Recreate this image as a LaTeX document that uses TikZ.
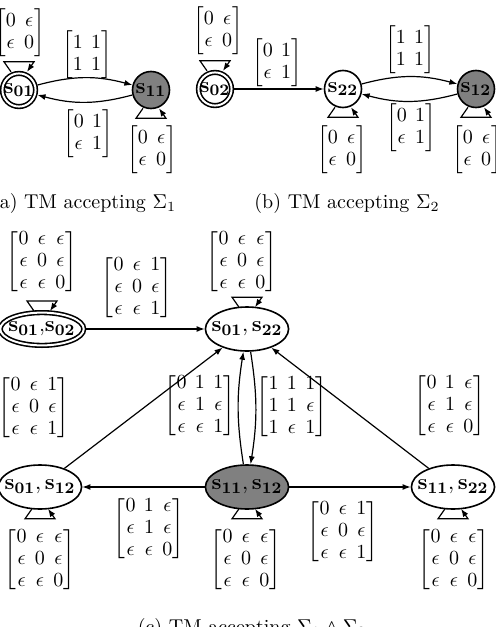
\documentclass[tikz,border=0pt]{standalone}
\usepackage{amsmath,amssymb}
\usepackage{tikz}
\usetikzlibrary{arrows.meta,shapes.geometric}
\newcommand{\sv}[1]{\mathbf{s_{#1}}}
\newcommand{\eps}{\epsilon}
\setlength{\arraycolsep}{2.1pt}
\renewcommand{\arraystretch}{0.92}

\begin{document}
\begin{tikzpicture}[x=0.5pt, y=-0.5pt,
  sta/.style={draw, thick, circle, minimum size=18.5pt, inner sep=0pt,
              font=\fontsize{11}{13}\selectfont},
  acc/.style={sta, double, double distance=1pt, outer sep=1.3pt, minimum size=16.4pt},
  fin/.style={fill=black!50},
  pair/.style={sta, ellipse, inner xsep=-3pt, inner ysep=0pt,
               minimum width=39pt, minimum height=22pt},
  accpair/.style={acc, ellipse, inner xsep=-2pt, inner ysep=0pt},
  mat/.style={inner sep=0pt},
  captext/.style={anchor=base},
  arr/.style={-{Latex[length=4pt,width=3pt]}, line width=0.6pt}
]
\useasboundingbox (0,0) rectangle (495,627);
\node[acc] (s01) at (19,90) {$\sv{01}$};
\node[sta, fin] (s11) at (151,90) {$\sv{11}$};
\node[acc] (s02) at (215,89) {$\sv{02}$};
\node[sta] (s22) at (343,89) {$\sv{22}$};
\node[sta, fin] (s12) at (476,89) {$\sv{12}$};
\node[accpair] (p0102) at (42,329) {$\sv{01}$,$\sv{02}$};
\node[pair] (p0122) at (247,329) {$\sv{01}, \sv{22}$};
\node[pair] (p0112) at (40,487) {$\sv{01}, \sv{12}$};
\node[pair, fin] (p1112) at (247,487) {$\sv{11}, \sv{12}$};
\node[pair] (p1122) at (453,487) {$\sv{11}, \sv{22}$};
\node[mat] (l0101) at (20,33) {$\begin{bmatrix}0&\eps\\\eps&0\end{bmatrix}$};
\node[mat] (l0111) at (87,55) {$\begin{bmatrix}1&1\\1&1\end{bmatrix}$};
\node[mat] (l1101) at (88,134) {$\begin{bmatrix}0&1\\\eps&1\end{bmatrix}$};
\node[mat] (l1111) at (152,150) {$\begin{bmatrix}0&\eps\\\eps&0\end{bmatrix}$};
\node[mat] (l0202) at (218,31) {$\begin{bmatrix}0&\eps\\\eps&0\end{bmatrix}$};
\node[mat] (l0222) at (277,63) {$\begin{bmatrix}0&1\\\eps&1\end{bmatrix}$};
\node[mat] (l2212) at (410,50) {$\begin{bmatrix}1&1\\1&1\end{bmatrix}$};
\node[mat] (l1222) at (411,128) {$\begin{bmatrix}0&1\\\eps&1\end{bmatrix}$};
\node[mat] (l2222) at (342,150) {$\begin{bmatrix}0&\eps\\\eps&0\end{bmatrix}$};
\node[mat] (l1212) at (477,150) {$\begin{bmatrix}0&\eps\\\eps&0\end{bmatrix}$};
\node[mat] (lp0102) at (42,262) {$\begin{bmatrix}0&\eps&\eps\\\eps&0&\eps\\\eps&\eps&0\end{bmatrix}$};
\node[mat] (lp0122) at (242,262) {$\begin{bmatrix}0&\eps&\eps\\\eps&0&\eps\\\eps&\eps&0\end{bmatrix}$};
\node[mat] (lp0102b) at (137,288) {$\begin{bmatrix}0&\eps&1\\\eps&0&\eps\\\eps&\eps&1\end{bmatrix}$};
\node[mat] (lp0112) at (34,408) {$\begin{bmatrix}0&\eps&1\\\eps&0&\eps\\\eps&\eps&1\end{bmatrix}$};
\node[mat] (lp1112up) at (200,406) {$\begin{bmatrix}0&1&1\\\eps&1&\eps\\\eps&\eps&1\end{bmatrix}$};
\node[mat] (lp0122dn) at (292,407) {$\begin{bmatrix}1&1&1\\1&1&\eps\\1&\eps&1\end{bmatrix}$};
\node[mat] (lp1122) at (450,406) {$\begin{bmatrix}0&1&\eps\\\eps&1&\eps\\\eps&\eps&0\end{bmatrix}$};
\node[mat] (lp1112l) at (149,529) {$\begin{bmatrix}0&1&\eps\\\eps&1&\eps\\\eps&\eps&0\end{bmatrix}$};
\node[mat] (lp1112r) at (343,532) {$\begin{bmatrix}0&\eps&1\\\eps&0&\eps\\\eps&\eps&1\end{bmatrix}$};
\node[mat] (lp0112b) at (40,560) {$\begin{bmatrix}0&\eps&\eps\\\eps&0&\eps\\\eps&\eps&0\end{bmatrix}$};
\node[mat] (lp1112b) at (246,560) {$\begin{bmatrix}0&\eps&\eps\\\eps&0&\eps\\\eps&\eps&0\end{bmatrix}$};
\node[mat] (lp1122b) at (454,560) {$\begin{bmatrix}0&\eps&\eps\\\eps&0&\eps\\\eps&\eps&0\end{bmatrix}$};
\node[captext] (capa) at (84,208) {(a) TM accepting $\Sigma_1$};
\node[captext] (capb) at (347,208) {(b) TM accepting $\Sigma_2$};
\node[captext] (capc) at (252,633) {(c) TM accepting $\Sigma_1 \wedge \Sigma_2$};
\foreach \a/\b in {s02/s22, p0102/p0122, p0112/p0122, p1122/p0122, p1112/p0112, p1112/p1122}
  \draw[arr] (\a) -- (\b);
\foreach \a/\b in {s01/s11, s11/s01, s22/s12, s12/s22}
  \draw[arr] (\a) to[bend left=15] (\b);
\foreach \a/\b in {p0122/p1112, p1112/p0122}
  \draw[arr] (\a) to[bend left=9] (\b);
\foreach \n in {s01, s02, p0102, p0122}
  \draw[arr] (\n.north) ++(-8,1) -- ++(-7,-10) -- ++(30,0) -- ++(-7,10);
\foreach \n in {s11, s22, s12, p0112, p1112, p1122}
  \draw[arr] (\n.south) ++(-8,-1) -- ++(-7,10) -- ++(30,0) -- ++(-7,-10);
\end{tikzpicture}
\end{document}
